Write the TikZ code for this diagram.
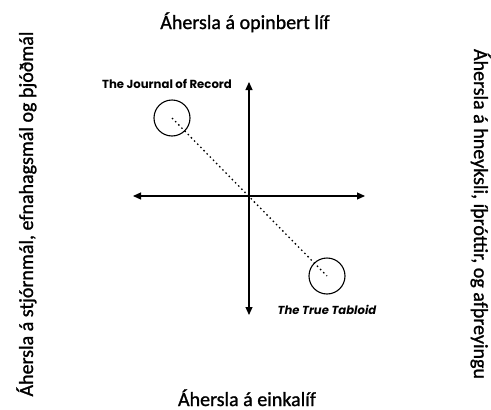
\documentclass[tikz,border=0pt]{standalone}
\usepackage{fontspec}
\setmainfont{Carlito}
\newfontfamily\headfont{Carlito}[FakeBold=1.2]
\newfontfamily\labfont{Poppins}
\usetikzlibrary{arrows.meta}
\tikzset{
  axisline/.style={line width=1.1pt, {Triangle[length=8pt,width=7pt]}-{Triangle[length=8pt,width=7pt]}},
  spot/.style={circle, draw, line width=1.1pt, minimum size=36pt, inner sep=0pt},
  linkline/.style={line width=1.3pt, dash pattern=on 1.5pt off 3pt},
  heading/.style={font=\headfont\fontsize{20}{24}\selectfont, inner sep=0pt, anchor=base},
  lablabel/.style={font=\labfont\bfseries\fontsize{11.7}{13}\selectfont, inner sep=0pt}
}
\begin{document}
\begin{tikzpicture}[x=1pt,y=-1pt]
\useasboundingbox (0,0) rectangle (491,410);
\node[heading] (top) at (245,29) {Áhersla á opinbert líf};
\node[heading] (bot) at (247,406) {Áhersla á einkalíf};
\node[heading, rotate=90] (left) at (33,214) {Áhersla á stjórnmál, efnahagsmál og þjóðmál};
\node[heading, rotate=-90] (right) at (474,214) {Áhersla á hneyksli, íþróttir, og afþreyingu};
\coordinate (l) at (133,196);
\coordinate (r) at (365,196);
\coordinate (u) at (249,82);
\coordinate (d) at (249,315);
\draw[axisline] (l) -- (r);
\draw[axisline] (d) -- (u);
\node[spot] (jr) at (172,118) {};
\node[spot] (tt) at (327,276) {};
\draw[linkline] (jr.center) -- (tt.center);
\node[lablabel] (jrl) at (167,84) {The Journal of Record};
\node[lablabel, font=\labfont\bfseries\itshape\fontsize{11.6}{13}\selectfont] (ttl) at (327,310) {The True Tabloid};
\end{tikzpicture}
\end{document}
